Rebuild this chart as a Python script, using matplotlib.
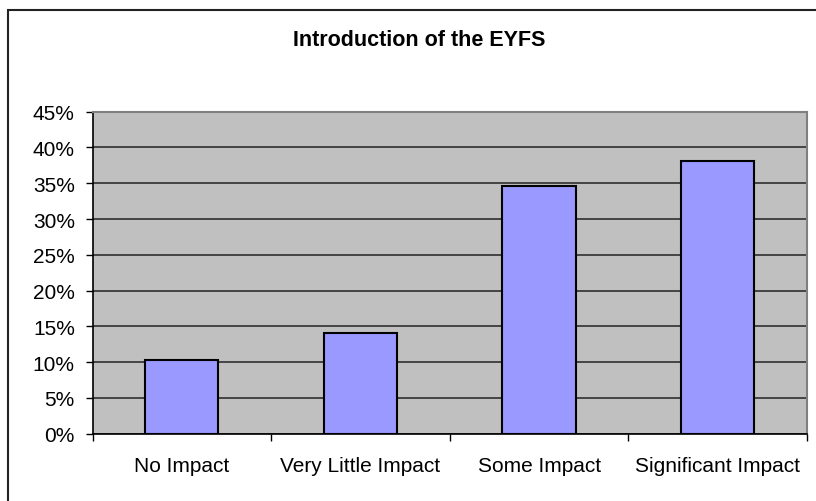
import matplotlib.pyplot as plt
import numpy as np
from matplotlib.patches import Rectangle
from matplotlib.ticker import PercentFormatter

# values
categories = ['No Impact', 'Very Little Impact', 'Some Impact', 'Significant Impact']
shares = [10.3, 14.1, 34.6, 38.1]
y_ticks = [0, 5, 10, 15, 20, 25, 30, 35, 40, 45]

plt.rcParams['font.family'] = ['Liberation Sans', 'DejaVu Sans']

fig = plt.figure(figsize=(8.16, 5.02), dpi=100)
fig.patch.set_facecolor('white')

# outer chart frame (cut off at right and bottom in the source)
fig.patches.append(Rectangle((8 / 816, -0.1), 1.2, (502 - 11) / 502 + 0.1,
                             transform=fig.transFigure, fill=False,
                             edgecolor='#222222', linewidth=1.5))

ax = fig.add_axes([92.5 / 816, 1 - 434.7 / 502, (807 - 92.5) / 816, (434.7 - 112.7) / 502])
ax.set_facecolor('#C0C0C0')

x = np.arange(len(categories))
ax.bar(x, shares, width=0.41, color='#9999FF', edgecolor='black', linewidth=1.5, zorder=3)

ax.set_xlim(-0.5, len(categories) - 0.5)
ax.set_ylim(0, 45)
ax.set_yticks(y_ticks)
ax.yaxis.set_major_formatter(PercentFormatter(decimals=0))
ax.grid(axis='y', color='#3a3a3a', linewidth=1.3, zorder=1)
ax.set_axisbelow(True)

# category labels centred, ticks on the boundaries
ax.set_xticks(x)
ax.set_xticklabels(categories)
ax.set_xticks(np.arange(-0.5, len(categories)), minor=True)
ax.tick_params(axis='x', which='major', length=0, pad=16, labelsize=15)
ax.tick_params(axis='x', which='minor', length=4.7, width=1, direction='out')
ax.tick_params(axis='y', length=4.7, width=1, direction='out', pad=8, labelsize=15)

for side in ['left', 'bottom']:
    ax.spines[side].set_color('black')
    ax.spines[side].set_linewidth(1.2)
for side in ['top', 'right']:
    ax.spines[side].set_color('#808080')
    ax.spines[side].set_linewidth(1.5)

fig.text(419.5 / 816, 1 - 40 / 502, 'Introduction of the EYFS', ha='center', va='center',
         fontsize=15.5, fontweight='bold')

fig.savefig('out.png', dpi=100)
